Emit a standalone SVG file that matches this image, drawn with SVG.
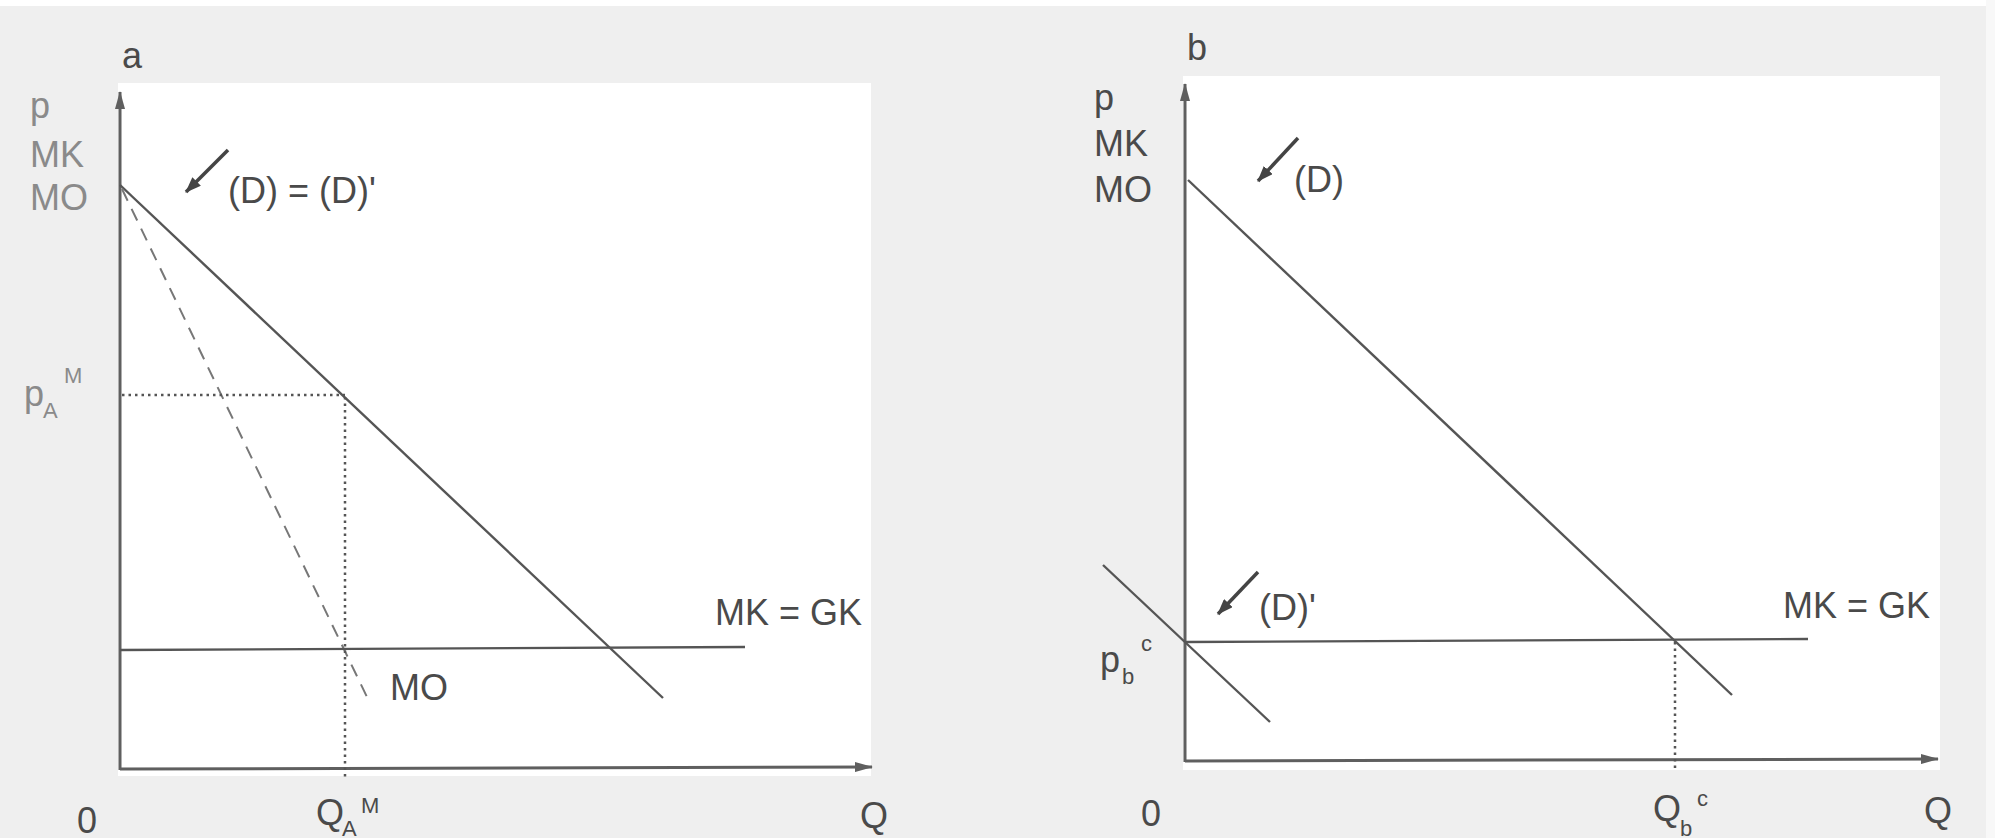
<svg xmlns="http://www.w3.org/2000/svg" width="1995" height="838" viewBox="0 0 1995 838">
<style>
.bg{fill:#efefef}
.plot{fill:#ffffff}
.axis{stroke:#5f5f5f;stroke-width:3;fill:none}
.curve{stroke:#555;stroke-width:2.4;fill:none}
.dash{stroke:#777;stroke-width:2;fill:none;stroke-dasharray:13 9}
.dot{stroke:#555;stroke-width:2.5;fill:none;stroke-dasharray:2.5 4}
.ptr{stroke:#444;stroke-width:3.5;fill:none}
text{font-family:"Liberation Sans",Arial,sans-serif;fill:#4a4a4a;font-size:36px}
.lt{fill:#8a8a8a}
.sm{font-size:22px}
</style>
<defs>
<marker id="axhead" viewBox="0 0 18 10" refX="17" refY="5" markerWidth="18" markerHeight="10" markerUnits="userSpaceOnUse" orient="auto">
<path d="M0,0 L18,5 L0,10 z" fill="#5f5f5f"/>
</marker>
<marker id="ptrhead" viewBox="0 0 16 12" refX="15" refY="6" markerWidth="16" markerHeight="12" markerUnits="userSpaceOnUse" orient="auto">
<path d="M0,0 L16,6 L0,12 z" fill="#444"/>
</marker>
</defs>

<g id="background">
<rect class="bg" x="0" y="0" width="1995" height="838"/>
<rect x="0" y="0" width="1995" height="6" fill="#ffffff"/>
<rect x="1986" y="0" width="9" height="838" fill="#f8f8f8"/>
<rect class="plot" x="118" y="83" width="753" height="693"/>
<rect class="plot" x="1183" y="76" width="757" height="694"/>
</g>

<g id="panel-a">
<g id="axes-a">
<line class="axis" x1="120" y1="770" x2="120" y2="92" marker-end="url(#axhead)"/>
<line class="axis" x1="120" y1="769" x2="872" y2="767" marker-end="url(#axhead)"/>
</g>
<g id="connectors-a">
<line id="demand-a" class="curve" x1="120" y1="185" x2="663" y2="698"/>
<line id="mo-a" class="dash" x1="122" y1="189" x2="367" y2="697"/>
<line id="mkgk-a" class="curve" x1="120" y1="650" x2="745" y2="647"/>
<line id="dot-h-a" class="dot" x1="122" y1="395" x2="345" y2="395"/>
<line id="dot-v-a" class="dot" x1="345" y1="397" x2="345" y2="778"/>
<line id="ptr-a" class="ptr" x1="228" y1="150" x2="186" y2="192" marker-end="url(#ptrhead)"/>
</g>
<g id="labels-a">
<text x="122" y="68">a</text>
<text class="lt" x="30" y="118">p</text>
<text class="lt" x="30" y="167">MK</text>
<text class="lt" x="30" y="210">MO</text>
<text x="228" y="203">(D) = (D)'</text>
<g id="pAM"><text class="lt" x="24" y="406">p</text><text class="lt sm" x="43" y="418">A</text><text class="lt sm" x="64" y="383">M</text></g>
<text x="715" y="625">MK = GK</text>
<text x="390" y="700">MO</text>
<text x="77" y="833">0</text>
<g id="QAM"><text x="316" y="825">Q</text><text class="sm" x="342" y="836">A</text><text class="sm" x="361" y="813">M</text></g>
<text x="860" y="828">Q</text>
</g>
</g>

<g id="panel-b">
<g id="axes-b">
<line class="axis" x1="1185" y1="762" x2="1185" y2="84" marker-end="url(#axhead)"/>
<line class="axis" x1="1185" y1="761" x2="1938" y2="759" marker-end="url(#axhead)"/>
</g>
<g id="connectors-b">
<line id="demand-b" class="curve" x1="1188" y1="180" x2="1732" y2="695"/>
<line id="demand2-b" class="curve" x1="1103" y1="565" x2="1270" y2="722"/>
<line id="mkgk-b" class="curve" x1="1185" y1="642" x2="1808" y2="639"/>
<line id="dot-v-b" class="dot" x1="1675" y1="642" x2="1675" y2="772"/>
<line id="ptr-b1" class="ptr" x1="1298" y1="138" x2="1258" y2="181" marker-end="url(#ptrhead)"/>
<line id="ptr-b2" class="ptr" x1="1258" y1="572" x2="1218" y2="614" marker-end="url(#ptrhead)"/>
</g>
<g id="labels-b">
<text x="1187" y="60">b</text>
<text x="1094" y="110">p</text>
<text x="1094" y="156">MK</text>
<text x="1094" y="202">MO</text>
<text x="1294" y="192">(D)</text>
<text x="1259" y="620">(D)'</text>
<g id="pbc"><text x="1100" y="672">p</text><text class="sm" x="1122" y="684">b</text><text class="sm" x="1141" y="651">c</text></g>
<text x="1783" y="618">MK = GK</text>
<text x="1141" y="826">0</text>
<g id="Qbc"><text x="1653" y="821">Q</text><text class="sm" x="1680" y="836">b</text><text class="sm" x="1697" y="806">c</text></g>
<text x="1924" y="823">Q</text>
</g>
</g>
</svg>
